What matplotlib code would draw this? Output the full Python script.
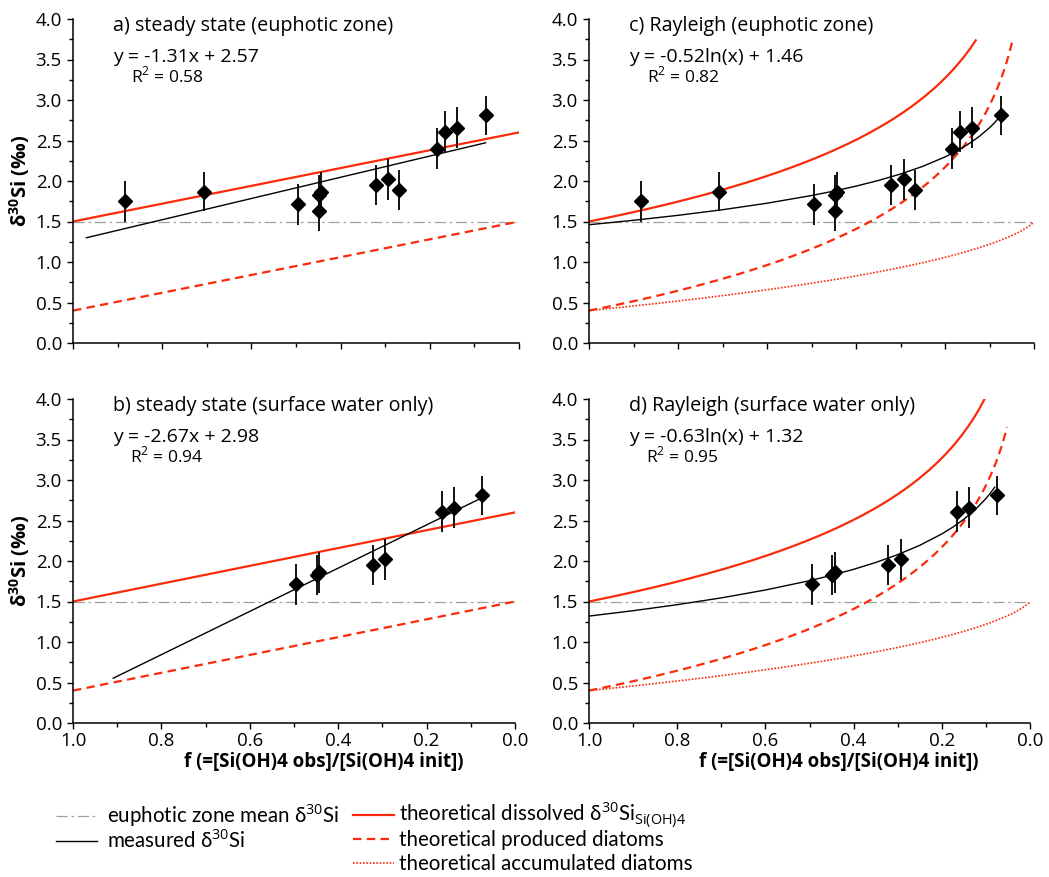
import numpy as np
import matplotlib
matplotlib.use('Agg')
import matplotlib.pyplot as plt
from matplotlib.ticker import MultipleLocator, FormatStrFormatter

plt.rcParams['font.family'] = ['Open Sans', 'DejaVu Sans']
plt.rcParams['mathtext.fontset'] = 'custom'
plt.rcParams['mathtext.rm'] = 'Open Sans'
plt.rcParams['mathtext.bf'] = 'Open Sans:bold'

# measured d30Si vs f, whole euphotic zone
f_euphotic = [0.884, 0.707, 0.495, 0.448, 0.443, 0.448, 0.321, 0.293, 0.268, 0.184, 0.166, 0.139, 0.075]
d30_euphotic = [1.75, 1.87, 1.71, 1.83, 1.86, 1.63, 1.95, 2.02, 1.89, 2.40, 2.61, 2.66, 2.81]
err_euphotic = [0.25, 0.245, 0.25, 0.25, 0.25, 0.25, 0.25, 0.25, 0.25, 0.25, 0.25, 0.25, 0.245]

# surface water only
f_surface = [0.495, 0.448, 0.443, 0.321, 0.293, 0.166, 0.139, 0.075]
d30_surface = [1.71, 1.83, 1.86, 1.95, 2.02, 2.61, 2.66, 2.81]
err_surface = [0.25, 0.25, 0.25, 0.25, 0.25, 0.25, 0.25, 0.245]

# fitted trend lines (printed on the chart)
fit_a = (-1.31, 2.57, 0.97, 0.075)     # slope, intercept, f start, f end
fit_b = (-2.67, 2.98, 0.909, 0.075)
fit_c = (-0.52, 1.46, 1.0, 0.075)      # coefficient of ln(f), intercept
fit_d = (-0.63, 1.32, 1.0, 0.076)
fit_grid = [1.0, 0.9, 0.8, 0.7, 0.6, 0.5, 0.45, 0.4, 0.35, 0.3, 0.25, 0.2,
            0.175, 0.15, 0.125, 0.1, 0.09, 0.08, 0.075]

# model parameters
d30_init = 1.5      # euphotic zone mean
epsilon = 1.1       # fractionation
f_end_dissolved = {'c': 0.131, 'd': 0.103}
f_end_produced = {'c': 0.049, 'd': 0.052}

RED = '#fa2a0a'
W, H = 1049, 877

LBL_MEAN = 'euphotic zone mean δ$^{30}$Si'
LBL_MEAS = 'measured δ$^{30}$Si'
LBL_DISS = 'theoretical dissolved δ$^{30}$Si$_{\\mathrm{Si(OH)4}}$'
LBL_PROD = 'theoretical produced diatoms'
LBL_ACC = 'theoretical accumulated diatoms'

fig = plt.figure(figsize=(W / 100, H / 100), dpi=100)


def px_axes(left, top, right, bottom):
  return fig.add_axes([left / W, 1 - bottom / H, (right - left) / W, (bottom - top) / H])


def style_axes(ax, xlabels):
  ax.set_xlim(1.0, 0.0)
  ax.set_ylim(0.0, 4.0)
  for s in ('top', 'right'):
    ax.spines[s].set_visible(False)
  for s in ('left', 'bottom'):
    ax.spines[s].set_linewidth(1.1)
  ax.xaxis.set_major_locator(MultipleLocator(0.2))
  ax.xaxis.set_minor_locator(MultipleLocator(0.1))
  ax.yaxis.set_major_locator(MultipleLocator(0.5))
  ax.yaxis.set_minor_locator(MultipleLocator(0.25))
  ax.xaxis.set_major_formatter(FormatStrFormatter('%.1f'))
  ax.yaxis.set_major_formatter(FormatStrFormatter('%.1f'))
  ax.tick_params(which='both', direction='out', width=1.0, labelsize=13.5, pad=4)
  ax.tick_params(axis='x', pad=2.5)
  ax.tick_params(which='major', length=4)
  ax.tick_params(which='minor', length=3)
  if not xlabels:
    ax.tick_params(axis='x', labelbottom=False)


def draw_points(ax, f, d30, err):
  ax.errorbar(f, d30, yerr=err, fmt='D', color='black', ms=6.8, elinewidth=1.3,
              capsize=0, zorder=5)


def draw_mean(ax):
  ax.plot([1.0, 0.0], [d30_init, d30_init], color='#a0a0a0', lw=0.9,
          ls=(0, (9, 3, 2, 3)), label=LBL_MEAN)


def steady_state(ax, f, d30, err, fit):
  ff = np.array([1.0, 0.0])
  draw_mean(ax)
  ax.plot(ff, d30_init + epsilon * (1 - ff), color=RED, lw=1.6, label=LBL_DISS)
  ax.plot(ff, d30_init - epsilon + epsilon * (1 - ff), color=RED, lw=1.6,
          ls=(0, (3.8, 2.4)), label=LBL_PROD)
  slope, icpt, f0, f1 = fit
  fx = np.array([f0, f1])
  ax.plot(fx, slope * fx + icpt, color='black', lw=1.0, label=LBL_MEAS)
  draw_points(ax, f, d30, err)


def rayleigh(ax, f, d30, err, fit, key):
  draw_mean(ax)
  fd = np.linspace(1.0, f_end_dissolved[key], 300)
  ax.plot(fd, d30_init - epsilon * np.log(fd), color=RED, lw=1.6, label=LBL_DISS)
  fp = np.linspace(1.0, f_end_produced[key], 300)
  ax.plot(fp, d30_init - epsilon - epsilon * np.log(fp), color=RED, lw=1.6,
          ls=(0, (3.8, 2.4)), label=LBL_PROD)
  fa = np.linspace(0.9999, 0.001, 300)
  ax.plot(fa, d30_init + epsilon * fa * np.log(fa) / (1 - fa), color=RED, lw=1.2,
          ls=(0, (1, 1)), label=LBL_ACC)
  coef, icpt, f0, f1 = fit
  fx = np.array([v for v in fit_grid if f1 <= v <= f0])
  ax.plot(fx, coef * np.log(fx) + icpt, color='black', lw=1.0, label=LBL_MEAS)
  draw_points(ax, f, d30, err)


def annotate(ax, title, eq, r2):
  ax.text(0.09, 0.979, title, transform=ax.transAxes, fontsize=14.2, va='center', ha='left')
  ax.text(0.09, 0.884, eq, transform=ax.transAxes, fontsize=14, va='center', ha='left')
  ax.text(0.13, 0.824, r2, transform=ax.transAxes, fontsize=12.5, va='center', ha='left')


ax_a = px_axes(73, 19, 519, 343)
ax_b = px_axes(73, 399, 515, 723)
ax_c = px_axes(589, 19, 1034, 343)
ax_d = px_axes(589, 399, 1030, 723)

steady_state(ax_a, f_euphotic, d30_euphotic, err_euphotic, fit_a)
steady_state(ax_b, f_surface, d30_surface, err_surface, fit_b)
rayleigh(ax_c, f_euphotic, d30_euphotic, err_euphotic, fit_c, 'c')
rayleigh(ax_d, f_surface, d30_surface, err_surface, fit_d, 'd')

style_axes(ax_a, False)
style_axes(ax_c, False)
style_axes(ax_b, True)
style_axes(ax_d, True)

annotate(ax_a, 'a) steady state (euphotic zone)', 'y = -1.31x + 2.57', 'R$^{2}$ = 0.58')
annotate(ax_b, 'b) steady state (surface water only)', 'y = -2.67x + 2.98', 'R$^{2}$ = 0.94')
annotate(ax_c, 'c) Rayleigh (euphotic zone)', 'y = -0.52ln(x) + 1.46', 'R$^{2}$ = 0.82')
annotate(ax_d, 'd) Rayleigh (surface water only)', 'y = -0.63ln(x) + 1.32', 'R$^{2}$ = 0.95')

for ax in (ax_a, ax_b):
  ax.set_ylabel('δ$^{\\mathbf{30}}$Si (‰)', fontsize=14.5, fontweight='bold')
  ax.yaxis.set_label_coords(-0.092, 0.5)
for ax in (ax_b, ax_d):
  ax.set_xlabel('f (=[Si(OH)4 obs]/[Si(OH)4 init])', fontsize=13.5, fontweight='bold')
  ax.xaxis.set_label_coords(0.567, -0.089)

# legend entries placed one by one under the panels
h_c, l_c = ax_c.get_legend_handles_labels()
by_label = dict(zip(l_c, h_c))
leg_font = {'family': ['Lato', 'DejaVu Sans'], 'size': 14.8}
legend_rows = [
  (LBL_MEAN, 56, 815, 0.5),
  (LBL_MEAS, 56, 840, 0.5),
  (LBL_DISS, 353, 815, 0.25),
  (LBL_PROD, 353, 840, 0.25),
  (LBL_ACC, 353, 864, 0.25),
]
for lbl, x0, y0, pad in legend_rows:
  fig.legend([by_label[lbl]], [lbl], loc='center left',
             bbox_to_anchor=(x0 / W, 1 - y0 / H), frameon=False, prop=leg_font,
             handlelength=2.0, handletextpad=pad, borderpad=0, borderaxespad=0)

fig.savefig('out.png', dpi=100)
